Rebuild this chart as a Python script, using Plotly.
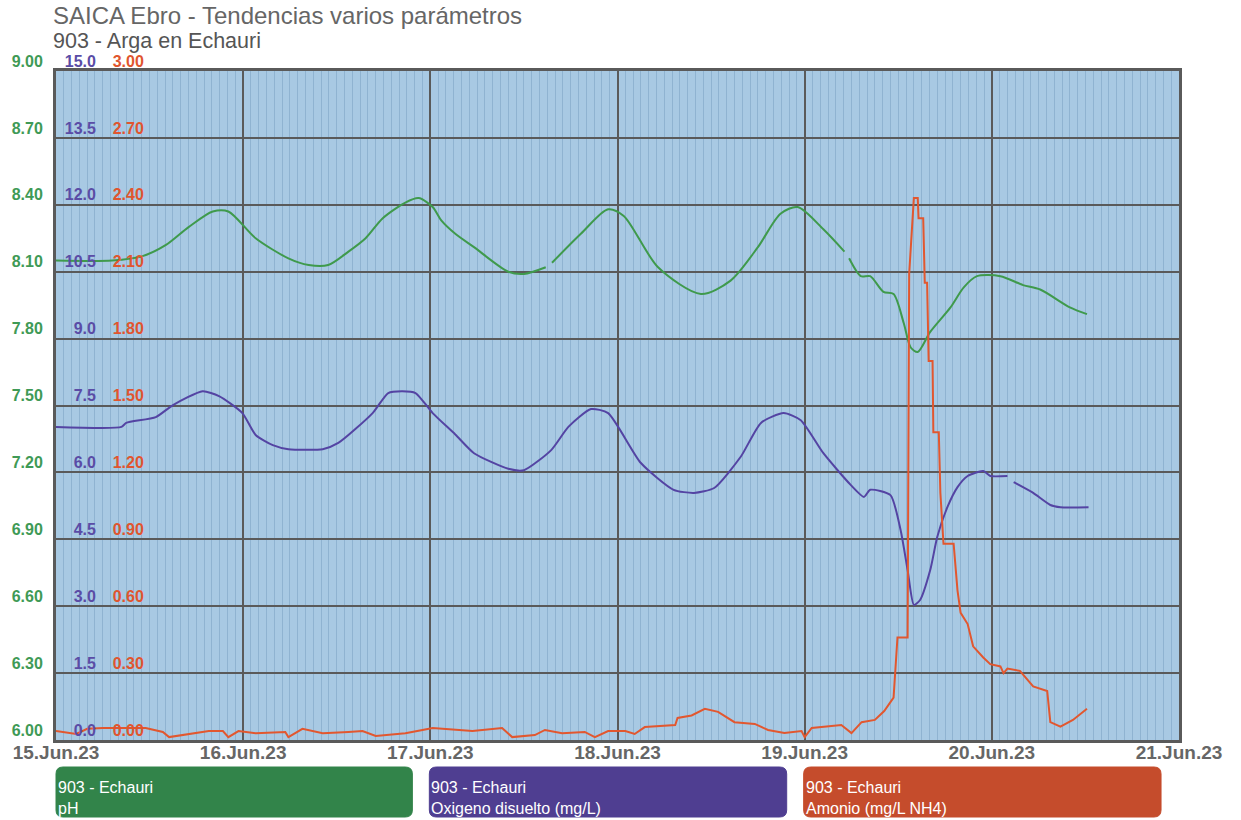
import plotly.graph_objects as go
import pandas as pd

# ---------------- data (hours since 15.Jun.23 00:00) ----------------
ph_hours = [0, 7.2, 11.1, 14.1, 17.0, 20.1, 22.1, 25.6, 29.8, 32.4, 34.9, 37.5, 39.7, 41.9,
            44.8, 46.5, 48.3, 49.4, 51.2, 53.6, 58.0, 60.0, 62.8, 63.2, 63.6, 67.3, 70.8, 72.8, 77.2,
            82.7, 86.5, 90.0, 92.9, 95.1, 98.4, 101.1, 101.4, 101.7, 103.2, 104.4, 106.1, 107.4,
            108.7, 109.6, 110.5, 112.1, 114.7, 116.4, 118.1, 121.1, 124.0, 126.2, 130.0, 132.2]
ph_values = [8.15, 8.15, 8.17, 8.22, 8.30, 8.37, 8.37, 8.25, 8.16, 8.13, 8.13, 8.19, 8.25, 8.34,
             8.41, 8.43, 8.39, 8.33, 8.27, 8.21, 8.10, 8.09, 8.12, None, 8.14, 8.27, 8.38, 8.35, 8.12,
             8.00, 8.06, 8.21, 8.36, 8.39, 8.29, 8.19, None, 8.16, 8.08, 8.08, 8.01, 8.00,
             7.87, 7.76, 7.74, 7.83, 7.94, 8.03, 8.08, 8.08, 8.04, 8.02, 7.94, 7.91]

o2_hours = [0, 8.4, 9.0, 12.8, 15.0, 18.8, 20.9, 23.9, 25.6, 27.8, 29.8, 34.2, 36.2, 40.6,
            42.6, 44.4, 46.1, 48.3, 51.2, 53.6, 58.0, 60.0, 63.5, 65.7, 68.6, 70.8, 75.0,
            79.2, 81.8, 84.4, 87.8, 90.4, 93.3, 95.5, 98.4, 101.9, 103.6, 104.4, 107.0,
            108.3, 109.2, 110.0, 110.8, 112.1, 113.0, 114.3, 115.6, 116.9, 118.9, 119.8,
            122.0, 122.4, 122.8, 125.3, 127.5, 128.8, 132.4]
o2_values = [7.02, 7.02, 7.11, 7.24, 7.51, 7.82, 7.71, 7.33, 6.84, 6.61, 6.52, 6.52, 6.66, 7.33,
             7.78, 7.82, 7.78, 7.33, 6.85, 6.43, 6.08, 6.05, 6.50, 7.02, 7.42, 7.33, 6.21,
             5.61, 5.54, 5.65, 6.35, 7.11, 7.33, 7.17, 6.43, 5.72, 5.45, 5.61, 5.49,
             4.71, 3.81, 3.03, 3.14, 3.81, 4.55, 5.22, 5.67, 5.92, 6.03, 5.92,
             5.92, None, 5.78, 5.54, 5.27, 5.22, 5.22]

nh4_hours = [0, 2.6, 4.0, 6.0, 11.5, 13.7, 14.5, 16.3, 17.9, 19.6, 21.4, 22.1, 23.4, 25.6,
             29.4, 29.8, 31.6, 34.2, 37.5, 39.3, 41.0, 44.8, 47.0, 48.3, 53.4, 57.2, 58.5,
             61.4, 62.7, 64.9, 67.8, 69.1, 70.8, 73.0, 74.2, 75.5, 79.4, 79.7, 81.5, 83.2,
             84.9, 87.0, 89.6, 91.3, 93.4, 95.6, 96.0, 96.9, 100.7, 102.0, 103.3, 105.0,
             106.2, 107.4, 107.9, 109.2, 109.4, 110.0, 110.5, 110.6, 111.2, 111.4, 111.7,
             111.9, 112.4, 112.5, 113.2, 113.4, 113.8, 115.1, 115.6, 116.0, 116.9, 117.6,
             118.9, 119.8, 121.1, 121.5, 122.0, 123.6, 125.3, 127.1, 127.5, 128.8, 130.4, 132.2]
nh4_values = [0.04, 0.027, 0.05, 0.054, 0.054, 0.036, 0.013, 0.022, 0.03, 0.04, 0.04, 0.013, 0.04, 0.03,
              0.036, 0.013, 0.05, 0.03, 0.036, 0.04, 0.018, 0.03, 0.045, 0.054, 0.04, 0.054, 0.013,
              0.022, 0.045, 0.03, 0.036, 0.013, 0.04, 0.04, 0.027, 0.058, 0.067, 0.099, 0.11, 0.14,
              0.126, 0.08, 0.072, 0.045, 0.031, 0.04, 0.013, 0.054, 0.067, 0.031, 0.08, 0.09,
              0.13, 0.19, 0.46, 0.46, 2.09, 2.43, 2.43, 2.34, 2.34, 2.05, 2.05,
              1.70, 1.70, 1.38, 1.38, 1.11, 0.88, 0.88, 0.67, 0.57, 0.52, 0.42,
              0.37, 0.34, 0.33, 0.30, 0.32, 0.31, 0.24, 0.22, 0.08, 0.06, 0.09, 0.14]

ph_ticks = [6.00, 6.30, 6.60, 6.90, 7.20, 7.50, 7.80, 8.10, 8.40, 8.70, 9.00]
o2_ticks = [0.0, 1.5, 3.0, 4.5, 6.0, 7.5, 9.0, 10.5, 12.0, 13.5, 15.0]
nh4_ticks = [0.00, 0.30, 0.60, 0.90, 1.20, 1.50, 1.80, 2.10, 2.40, 2.70, 3.00]

legend_titles = ["903 - Echauri", "903 - Echauri", "903 - Echauri"]
legend_params = ["pH", "Oxigeno disuelto (mg/L)", "Amonio (mg/L NH4)"]

title_text = "SAICA Ebro - Tendencias varios parámetros"
subtitle_text = "903 - Arga en Echauri"

# ---------------- styling ----------------
GREEN_LINE = "#3f9a4c"
PURPLE_LINE = "#5444a3"
ORANGE_LINE = "#e2572f"
GREEN_TXT = "#3f9a56"
PURPLE_TXT = "#5a4ca6"
ORANGE_TXT = "#e0552e"
GREEN_BOX = "#32844a"
PURPLE_BOX = "#4f3e91"
ORANGE_BOX = "#c54c2c"
BG = "#a8c9e3"
MINOR = "#8fb3d1"
MAJOR = "#5a5a5a"
FONT = "Liberation Sans"

W, H = 1241, 820
ML, MR, MT, MB = 54, 62, 71, 80
PW, PH = W - ML - MR, H - MT - MB

start = pd.Timestamp("2023-06-15")


def to_time(hours):
    return [start + pd.Timedelta(hours=h) for h in hours]


fig = go.Figure()
fig.add_trace(go.Scatter(x=to_time(ph_hours), y=ph_values, mode="lines", yaxis="y",
                         line=dict(color=GREEN_LINE, width=2, shape="spline", smoothing=0.8),
                         connectgaps=False, showlegend=False))
fig.add_trace(go.Scatter(x=to_time(o2_hours), y=o2_values, mode="lines", yaxis="y2",
                         line=dict(color=PURPLE_LINE, width=2, shape="spline", smoothing=0.6),
                         connectgaps=False, showlegend=False))
fig.add_trace(go.Scatter(x=to_time(nh4_hours), y=nh4_values, mode="lines", yaxis="y3",
                         line=dict(color=ORANGE_LINE, width=2), connectgaps=False, showlegend=False))

tickfont = lambda c: dict(family=FONT, size=16, color=c, weight="bold")

fig.update_layout(
    width=W, height=H,
    margin=dict(l=ML, r=MR, t=MT, b=MB),
    paper_bgcolor="white",
    plot_bgcolor=BG,
    showlegend=False,
    xaxis=dict(
        type="date",
        range=[start, start + pd.Timedelta(days=6)],
        tickmode="linear", tick0=start, dtick=86400000,
        tickformat="%d.%b.%y",
        tickfont=dict(family=FONT, size=19, color="#666666", weight="bold"),
        showgrid=True, gridcolor=MAJOR, gridwidth=2,
        minor=dict(dtick=3600000, tick0=start, showgrid=True, gridcolor=MINOR, gridwidth=1),
        showline=True, linecolor=MAJOR, linewidth=3, mirror=True,
        ticks="", ticklen=0, ticklabelstandoff=-7,
        zeroline=False,
    ),
    yaxis=dict(
        range=[6, 9],
        tickmode="array", tickvals=ph_ticks, ticktext=[f"{v:.2f}" for v in ph_ticks],
        tickfont=tickfont(GREEN_TXT),
        showgrid=True, gridcolor=MAJOR, gridwidth=2,
        showline=True, linecolor=MAJOR, linewidth=3, mirror=True,
        ticks="", ticklabelshift=-10, ticklabelstandoff=7,
        zeroline=False,
    ),
    yaxis2=dict(
        range=[0, 15], overlaying="y", anchor="free", side="left",
        position=(96 - ML) / PW,
        tickmode="array", tickvals=o2_ticks, ticktext=[f"{v:.1f}" for v in o2_ticks],
        tickfont=tickfont(PURPLE_TXT),
        showgrid=False, showline=False, zeroline=False,
        ticks="", ticklabelshift=-10, ticklabelstandoff=2,
    ),
    yaxis3=dict(
        range=[0, 3], overlaying="y", anchor="free", side="left",
        position=(144 - ML) / PW,
        tickmode="array", tickvals=nh4_ticks, ticktext=[f"{v:.2f}" for v in nh4_ticks],
        tickfont=tickfont(ORANGE_TXT),
        showgrid=False, showline=False, zeroline=False,
        ticks="", ticklabelshift=-10, ticklabelstandoff=2,
    ),
)

# titles
fig.add_annotation(text=title_text, xref="paper", yref="paper",
                   x=(49 - ML) / PW, y=1 + (MT - 16) / PH, xanchor="left", yanchor="middle",
                   showarrow=False, font=dict(family=FONT, size=24, color="#666666"))
fig.add_annotation(text=subtitle_text, xref="paper", yref="paper",
                   x=(49 - ML) / PW, y=1 + (MT - 41) / PH, xanchor="left", yanchor="middle",
                   showarrow=False, font=dict(family=FONT, size=21.5, color="#555555"))


# legend boxes (rounded rectangles)
def rounded_path(x0, y0, x1, y1, r):
    px = lambda x: (x - ML) / PW
    py = lambda y: (H - MB - y) / PH
    pts = [
        f"M {px(x0 + r)} {py(y0)}",
        f"L {px(x1 - r)} {py(y0)}",
        f"Q {px(x1)} {py(y0)} {px(x1)} {py(y0 + r)}",
        f"L {px(x1)} {py(y1 - r)}",
        f"Q {px(x1)} {py(y1)} {px(x1 - r)} {py(y1)}",
        f"L {px(x0 + r)} {py(y1)}",
        f"Q {px(x0)} {py(y1)} {px(x0)} {py(y1 - r)}",
        f"L {px(x0)} {py(y0 + r)}",
        f"Q {px(x0)} {py(y0)} {px(x0 + r)} {py(y0)}",
        "Z",
    ]
    return " ".join(pts)


boxes = [(54, 411, GREEN_BOX), (428, 786, PURPLE_BOX), (803, 1161, ORANGE_BOX)]
for (x0, x1, col), t1, t2 in zip(boxes, legend_titles, legend_params):
    fig.add_shape(type="path", xref="paper", yref="paper",
                  path=rounded_path(x0, 767, x1, 817, 7),
                  fillcolor=col, line=dict(color=col, width=1), layer="above")
    fig.add_annotation(text=f"{t1}<br>{t2}", xref="paper", yref="paper",
                       x=(x0 - ML) / PW, y=(H - MB - 798) / PH,
                       xanchor="left", yanchor="middle", align="left", showarrow=False,
                       font=dict(family=FONT, size=16, color="white"))

fig.write_html("out.html", config={"displayModeBar": False},
               post_script="document.body.style.margin='0';")
